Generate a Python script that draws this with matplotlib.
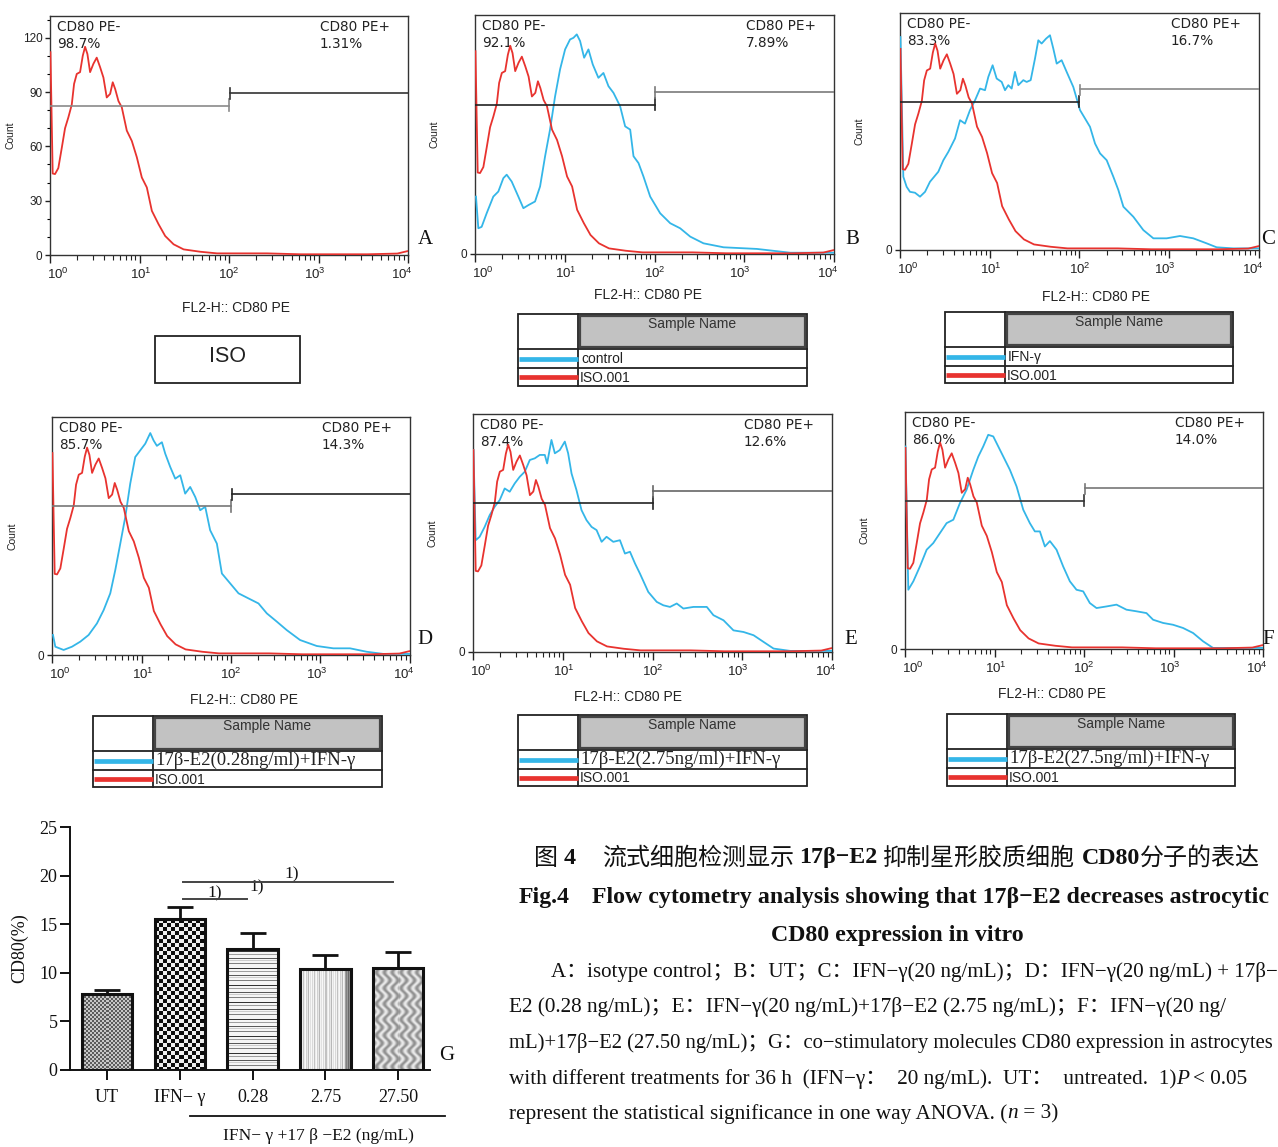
import numpy as np
import matplotlib
matplotlib.use('Agg')
import matplotlib.pyplot as plt
import matplotlib.transforms as mtransforms
from matplotlib.patches import Rectangle
from matplotlib.ticker import FixedLocator, FuncFormatter, NullFormatter

plt.rcParams['mathtext.default'] = 'regular'

W, H = 1278, 1147
RED = '#e8332f'
BLUE = '#34b6e8'

# ------------------------- data -------------------------
panel_letters = ['A', 'B', 'C', 'D', 'E', 'F']
neg_labels = ['98.7%', '92.1%', '83.3%', '85.7%', '87.4%', '86.0%']
pos_labels = ['1.31%', '7.89%', '16.7%', '14.3%', '12.6%', '14.0%']
sample_names = ['ISO', 'control', 'IFN-γ', '17β-E2(0.28ng/ml)+IFN-γ',
                '17β-E2(2.75ng/ml)+IFN-γ', '17β-E2(27.5ng/ml)+IFN-γ']
iso_name = 'ISO.001'
x_ticks = [1, 10, 100, 1000, 10000]
count_ticks_A = [0, 30, 60, 90, 120]
gate_neg = [1, 100]
gate_pos = [100, 10000]
gate_levels = [82.5, 89.5]

# isotype (ISO.001) histogram: log10 fluorescence, count
iso_log = [0.005, 0.03, 0.056, 0.093, 0.131, 0.168, 0.205, 0.243, 0.269, 0.299, 0.336,
           0.366, 0.392, 0.418, 0.448, 0.485, 0.522, 0.560, 0.597, 0.634, 0.672, 0.701,
           0.728, 0.765, 0.802, 0.858, 0.914, 0.970, 1.026, 1.082, 1.138, 1.213, 1.287,
           1.381, 1.493, 1.679, 1.866, 2.052, 2.425, 2.799, 3.545, 3.881, 4.0]
iso_count = [112, 45, 44.7, 48, 59, 70, 76, 83, 94.5, 100, 101,
             110, 115, 111, 101, 105.6, 109, 103.7, 98, 87, 89, 95.4,
             91.7, 85, 81.6, 68.7, 63, 54, 42.8, 37.3, 24.4, 17, 10.5,
             5.9, 3.1, 1.8, 0.9, 0.9, 0.9, 0.4, 0.4, 0.8, 2.2]

# B: control
b_log = [0.011, 0.037, 0.074, 0.130, 0.204, 0.260, 0.316, 0.353, 0.409, 0.483, 0.539,
         0.595, 0.669, 0.725, 0.781, 0.836, 0.892, 0.948, 1.004, 1.059, 1.097, 1.134,
         1.171, 1.216, 1.264, 1.312, 1.375, 1.431, 1.487, 1.543, 1.617, 1.673, 1.729,
         1.766, 1.822, 1.877, 1.952, 2.063, 2.175, 2.286, 2.398, 2.546, 2.770, 3.141,
         3.513, 3.996]
b_count = [31.7, 14.2, 15, 22.5, 31.7, 34.5, 41.9, 43.8, 40, 31.7, 25.3,
           27, 29, 37.3, 54, 68.7, 87, 102, 113, 118.5, 119.4, 121.3,
           117.6, 108.4, 113, 104.7, 97.3, 100, 92.7, 89, 81.6, 70.5, 68.7,
           54, 50.2, 42.8, 31.7, 22.5, 17, 14.2, 9.6, 5.9, 3.7, 2.8,
           0.7, 0.7]

# C: IFN-gamma
c_log = [0.005, 0.037, 0.074, 0.111, 0.167, 0.223, 0.279, 0.334, 0.427, 0.483, 0.539,
         0.613, 0.669, 0.724, 0.780, 0.836, 0.892, 0.947, 0.984, 1.032, 1.077, 1.133,
         1.170, 1.207, 1.244, 1.281, 1.318, 1.374, 1.411, 1.456, 1.504, 1.541, 1.578,
         1.627, 1.671, 1.708, 1.746, 1.801, 1.857, 1.931, 2.006, 2.117, 2.173, 2.229,
         2.303, 2.377, 2.433, 2.489, 2.600, 2.711, 2.823, 2.971, 3.120, 3.268, 3.417,
         3.528, 3.714, 3.993]
c_count = [118.6, 40.8, 35.2, 32.4, 31.9, 29.7, 32.4, 38, 43.6, 50, 54.7,
           62.1, 72.3, 70.4, 77.9, 83.4, 89.9, 89, 96.4, 102.9, 95.5, 93.6,
           89, 91.8, 89.9, 99.2, 91.8, 94.6, 93.6, 94.6, 106.6, 116.8, 115,
           117.7, 119.6, 112.2, 103.8, 105.7, 99.2, 90.8, 77.9, 68.6, 59.3, 53.8,
           50, 40.8, 33.4, 24.1, 18.5, 11.1, 6.5, 6.5, 7.8, 6.5, 3.7,
           1.5, 0.9, 0.9]

# D: 17b-E2 0.28 ng/ml + IFN-gamma
d_log = [0.011, 0.037, 0.130, 0.223, 0.316, 0.409, 0.502, 0.577, 0.651, 0.707, 0.763,
         0.819, 0.874, 0.930, 0.986, 1.042, 1.098, 1.135, 1.172, 1.228, 1.265, 1.321,
         1.377, 1.433, 1.488, 1.544, 1.600, 1.656, 1.712, 1.767, 1.842, 1.898, 1.991,
         2.084, 2.195, 2.307, 2.400, 2.512, 2.623, 2.772, 2.958, 3.144, 3.330, 3.516,
         3.702, 3.993]
d_count = [11.1, 4.6, 2.8, 4.6, 7.4, 11.1, 17.5, 24.9, 34.2, 47.1, 61.8,
           76.6, 95, 109.8, 113.5, 117.2, 123.1, 119, 116, 118, 111.7, 104.3,
           97.8, 99.7, 89.5, 93.2, 87.7, 80.3, 82.2, 69.2, 61.8, 45.2, 39.7,
           34.2, 31.4, 28.6, 23.1, 18.5, 13.8, 8.3, 5, 3.7, 3.7, 1.8,
           0.6, 0.6]

# E: 17b-E2 2.75 ng/ml + IFN-gamma
e_log = [0.005, 0.030, 0.074, 0.130, 0.186, 0.242, 0.298, 0.353, 0.409, 0.465, 0.521,
         0.577, 0.633, 0.688, 0.744, 0.800, 0.826, 0.874, 0.912, 0.967, 1.023, 1.060,
         1.098, 1.153, 1.209, 1.265, 1.321, 1.377, 1.433, 1.488, 1.563, 1.637, 1.693,
         1.749, 1.805, 1.860, 1.953, 2.047, 2.121, 2.195, 2.270, 2.344, 2.456, 2.605,
         2.679, 2.791, 2.902, 3.014, 3.126, 3.237, 3.349, 3.535, 3.993]
e_count = [112, 62, 63.9, 69.4, 75.9, 80.6, 84.3, 90.7, 88.9, 93.5, 97.2,
           100, 106.5, 107.4, 109.3, 109.3, 104.6, 117.6, 110.2, 112, 116.7, 110.2,
           99, 89.8, 78.7, 73.1, 69.4, 67.6, 61.1, 63.9, 61.1, 62, 54.6,
           55.6, 49.1, 43.5, 33.3, 27.8, 25.9, 25, 26.9, 24.1, 25, 25,
           20.4, 17.6, 12, 11.1, 9.3, 5.6, 1.9, 0.6, 0.6]

# F: 17b-E2 27.5 ng/ml + IFN-gamma
f_log = [0.005, 0.037, 0.093, 0.167, 0.242, 0.316, 0.391, 0.465, 0.540, 0.614, 0.688,
         0.763, 0.819, 0.874, 0.930, 0.986, 1.042, 1.098, 1.172, 1.247, 1.321, 1.395,
         1.451, 1.507, 1.563, 1.619, 1.693, 1.767, 1.842, 1.916, 1.991, 2.065, 2.140,
         2.251, 2.363, 2.474, 2.586, 2.698, 2.772, 2.884, 2.995, 3.107, 3.219, 3.330,
         3.442, 3.993]
f_count = [112.8, 33, 37.7, 46, 55.3, 59, 64.6, 70.1, 72, 81.3, 88.7,
           99.8, 107.2, 112.8, 119.3, 118.4, 112.8, 107.2, 99.8, 90.5, 77.6, 70.1,
           65.5, 65.5, 57.1, 60.1, 55.3, 46, 37.7, 33, 32.1, 25.6, 22.8,
           23.7, 24.7, 21.9, 21, 20, 16.3, 14.5, 13.5, 11.7, 8.9, 4.3,
           0.6, 0.6]

blue_series = [None, (b_log, b_count), (c_log, c_count), (d_log, d_count),
               (e_log, e_count), (f_log, f_count)]

# G: bar chart
groups = ['UT', 'IFN− γ', '0.28', '2.75', '27.50']
cd80_mean = [7.8, 15.5, 12.4, 10.4, 10.45]
cd80_sd = [0.45, 1.25, 1.7, 1.45, 1.7]
bar_ticks = [0, 5, 10, 15, 20, 25]
sig_pairs = [(1, 2), (1, 4)]
sig_levels = [17.6, 19.3]
sig_text = '1)'

# ------------------------- layout -------------------------
fig = plt.figure(figsize=(W / 100, H / 100), dpi=100)
fig.patch.set_facecolor('white')

ov = fig.add_axes([0, 0, 1, 1], zorder=-1)
ov.set_xlim(0, W)
ov.set_ylim(H, 0)
ov.axis('off')


def px_axes(l, t, r, b, **kw):
    return fig.add_axes([l / W, 1 - b / H, (r - l) / W, (b - t) / H], **kw)


hist_boxes = [(50, 16, 408, 255), (475, 15, 834, 254), (900, 13, 1259, 250),
              (52, 417, 410, 655), (473, 414, 832, 652), (905, 412, 1263, 649)]
gate_colors = [('#8a8a8a', '#333333'), ('#222222', '#7a7a7a'), ('#222222', '#888888'),
               ('#777777', '#222222'), ('#222222', '#666666'), ('#333333', '#777777')]
xlabel_pos = [(236, 308), (648, 295), (1096, 297), (244, 700), (628, 697), (1052, 694)]
letter_pos = [(425, 240), (852, 240), (1268, 240), (425, 640), (851, 640), (1268, 640)]
table_boxes = [None, (518, 314, 807, 386), (945, 312, 1233, 383), (93, 716, 382, 787),
               (518, 715, 807, 786), (947, 714, 1235, 786)]
label_shifts = [8, 1, 0, -4, -6]

minor_x = [k * 10 ** d for d in range(4) for k in range(2, 10)]

for i, box in enumerate(hist_boxes):
    l, t, r, b = box
    aw, ah = r - l, b - t
    ax = px_axes(l, t, r, b)
    ax.set_xscale('log')
    if blue_series[i] is not None:
        bl, bc = blue_series[i]
        ax.plot(10 ** np.array(bl), bc, color=BLUE, lw=1.3, zorder=3)
    ax.plot(10 ** np.array(iso_log), iso_count, color=RED, lw=1.3, zorder=4)
    cneg, cpos = gate_colors[i]
    ax.plot(gate_neg, [gate_levels[0]] * 2, color=cneg, lw=1.2, zorder=5)
    ax.plot([gate_neg[1]] * 2, [gate_levels[0] - 3, gate_levels[0] + 3.5], color=cneg, lw=1.2, zorder=5)
    ax.plot([gate_pos[0] * 1.02, gate_pos[1]], [gate_levels[1]] * 2, color=cpos, lw=1.2, zorder=5)
    ax.plot([gate_pos[0] * 1.02] * 2, [gate_levels[1] - 3.3, gate_levels[1] + 2.5], color=cpos, lw=1.2, zorder=5)
    ax.set_xlim(1, 1e4)
    ax.set_ylim(0, 132)
    ax.xaxis.set_major_locator(FixedLocator(x_ticks))
    ax.xaxis.set_major_formatter(FuncFormatter(lambda v, p: r'$10^{%d}$' % round(np.log10(v))))
    ax.xaxis.set_minor_locator(FixedLocator(minor_x))
    ax.xaxis.set_minor_formatter(NullFormatter())
    ax.tick_params(axis='x', which='major', direction='out', length=6, width=1.0,
                   labelsize=9.5, pad=2.5, colors='#222')
    ax.tick_params(axis='x', which='minor', direction='out', length=3.5, width=0.8, colors='#222')
    for tk, sh in zip(ax.xaxis.get_major_ticks(numticks=len(x_ticks)), label_shifts):
        off = mtransforms.ScaledTranslation(sh / 100, 0, fig.dpi_scale_trans)
        tk.label1.set_transform(tk.label1.get_transform() + off)
        tk.label1.set_family('Liberation Sans')
    if i == 0:
        ax.yaxis.set_major_locator(FixedLocator(count_ticks_A))
        ax.yaxis.set_minor_locator(FixedLocator([v for v in range(0, 131, 10) if v % 30]))
        ax.tick_params(axis='y', which='minor', direction='out', length=2.5, width=0.8)
    else:
        ax.yaxis.set_major_locator(FixedLocator([0]))
    ax.tick_params(axis='y', which='major', direction='out', length=3.5, width=1.0,
                   labelsize=8.5, pad=2, colors='#222')
    for lab in ax.get_yticklabels():
        lab.set_family('Liberation Sans')
    for s in ax.spines.values():
        s.set_linewidth(1.0)
        s.set_color('#333333')
    ax.set_ylabel('Count', fontsize=7.5, family='Liberation Sans', color='#222')
    ax.yaxis.set_label_coords(-35 / aw, 0.5)
    tkw = dict(transform=ax.transAxes, ha='left', va='center', fontsize=9.8,
               family='DejaVu Sans', color='#222')
    ax.text(7 / aw, 1 - 11 / ah, 'CD80 PE-', **tkw)
    ax.text(7 / aw, 1 - 28 / ah, neg_labels[i], **tkw)
    ax.text(1 - 88 / aw, 1 - 11 / ah, 'CD80 PE+', **tkw)
    ax.text(1 - 88 / aw, 1 - 28 / ah, pos_labels[i], **tkw)

    # x label, panel letter
    xl, yl = xlabel_pos[i]
    ov.text(xl, yl, 'FL2-H:: CD80 PE', ha='center', va='center', fontsize=10,
            family='Liberation Sans', color='#222')
    lx, ly = letter_pos[i]
    ov.text(lx, ly, panel_letters[i], ha='center', va='center', fontsize=15,
            family='Liberation Serif', color='#111')

    # legend tables
    if i == 0:
        ov.add_patch(Rectangle((155, 336), 145, 47, fill=False, lw=1.3, ec='#222'))
        ov.text(227.5, 357, sample_names[0], ha='center', va='center', fontsize=15.5,
                family='Liberation Sans', color='#222')
    else:
        x0, y0, x1, y1 = table_boxes[i]
        ov.add_patch(Rectangle((x0 + 62, y0 + 2), x1 - x0 - 64, 30.5, fc='#c2c2c2', ec='#444', lw=1.6))
        ov.add_patch(Rectangle((x0, y0), x1 - x0, y1 - y0, fill=False, lw=1.3, ec='#222'))
        ov.plot([x0 + 60, x0 + 60], [y0, y1], color='#222', lw=1.3)
        ov.plot([x0, x1], [y0 + 35, y0 + 35], color='#222', lw=1.3)
        ov.plot([x0, x1], [y0 + 53.5, y0 + 53.5], color='#222', lw=1.3)
        ov.plot([x0 + 1, x0 + 60], [y0 + 44.5] * 2, color=BLUE, lw=3.4, solid_capstyle='butt')
        ov.plot([x0 + 1, x0 + 60], [y0 + 63] * 2, color=RED, lw=3.4, solid_capstyle='butt')
        ov.text((x0 + 62 + x1 - 2) / 2, y0 + 10, 'Sample Name', ha='center', va='center',
                fontsize=10, family='Liberation Sans', color='#333')
        if i >= 3:
            ov.text(x0 + 62, y0 + 44.5, sample_names[i], ha='left', va='center', fontsize=13.5,
                    family='Liberation Serif', color='#222')
        else:
            ov.text(x0 + 63, y0 + 45, sample_names[i], ha='left', va='center', fontsize=10,
                    family='Liberation Sans', color='#222')
        ov.text(x0 + 62, y0 + 63.5, iso_name, ha='left', va='center', fontsize=10,
                family='Liberation Sans', color='#222')

# ------------------------- G: bar chart -------------------------
gax = px_axes(70, 827, 430, 1070)
xpos = np.arange(len(groups))
gax.set_xlim(-0.508, 4.437)
gax.set_ylim(0, 25)
bars = gax.bar(xpos, cd80_mean, width=0.69, facecolor='none', edgecolor='#111',
               linewidth=2.2, zorder=3)


def pattern(kind, h, w):
    ii, jj = np.mgrid[0:h, 0:w]
    if kind == 0:
        v = np.where(((ii // 2 + jj // 2) % 2) == 0, 0.36, 0.78)
    elif kind == 1:
        v = np.where(((ii // 4 + jj // 4) % 2) == 0, 0.05, 0.93)
    elif kind == 2:
        rows = np.array([0.96, 0.96, 0.2, 0.96, 0.96, 0.62, 0.96, 0.96, 0.96, 0.35, 0.96,
                         0.8, 0.96, 0.96, 0.5, 0.96, 0.96])
        v = rows[ii % len(rows)]
    elif kind == 3:
        cols = np.array([0.97, 0.85, 0.95, 0.76, 0.92, 0.97, 0.82, 0.9, 0.72, 0.95, 0.88])
        v = cols[jj % len(cols)]
        v = np.where(jj > w * 0.86, v - 0.35, v)
    else:
        v = 0.74 + 0.17 * np.sin(jj * 0.8 + 2.2 * np.sin(ii * 0.4))
    return v


for k, bar in enumerate(bars):
    bb = bar.get_window_extent()
    hpx, wpx = max(int(round(bb.height)), 1), max(int(round(bb.width)), 1)
    img = pattern(k, hpx, wpx)
    gax.imshow(img, cmap='gray', vmin=0, vmax=1, interpolation='nearest', aspect='auto',
               extent=(bar.get_x(), bar.get_x() + bar.get_width(), 0, bar.get_height()),
               origin='upper', zorder=2)

gax.errorbar(xpos, cd80_mean, yerr=[np.zeros(len(cd80_sd)), cd80_sd], fmt='none',
             ecolor='#111', elinewidth=2.0, capsize=9.5, capthick=2.0, zorder=4)
gax.set_xlim(-0.508, 4.437)
gax.set_ylim(0, 25)

# significance lines
line_ends = []
for (a, bidx), lev in zip(sig_pairs, sig_levels):
    xs, xe = xpos[a] + 0.04, xpos[bidx] - 0.07
    gax.plot([xs, xe], [lev, lev], color='#444', lw=1.4, clip_on=False, zorder=5)
    line_ends.append((xs, xe, lev))
sfont = dict(fontsize=12.5, family='Liberation Serif', color='#111', ha='center', va='center')
gax.text((line_ends[0][0] + line_ends[0][1]) / 2, line_ends[0][2] + 0.55, sig_text, **sfont)
gax.text(line_ends[0][1] + 0.12, line_ends[1][2] - 0.5, sig_text, **sfont)
gax.text((line_ends[1][0] + line_ends[1][1]) / 2 + 0.05, line_ends[1][2] + 0.8, sig_text, **sfont)

gax.set_xticks(xpos)
gax.set_xticklabels(groups)
gax.set_yticks(bar_ticks)
gax.tick_params(axis='both', direction='out', length=7, width=1.4, labelsize=13, colors='#111')
gax.tick_params(axis='x', pad=7)
gax.tick_params(axis='y', pad=2)
for lab in gax.get_xticklabels() + gax.get_yticklabels():
    lab.set_family('Liberation Serif')
for s in ['top', 'right']:
    gax.spines[s].set_visible(False)
for s in ['left', 'bottom']:
    gax.spines[s].set_linewidth(1.4)
    gax.spines[s].set_color('#111')
gax.set_ylabel('CD80(%)', fontsize=13, family='Liberation Serif', color='#111')
gax.yaxis.set_label_coords(-42 / 360, 0.5)

ov.plot([190, 445], [1116, 1116], color='#111', lw=1.3)
ov.text(318, 1136, 'IFN− γ +17 β −E2 (ng/mL)', ha='center', va='center', fontsize=12.5,
        family='Liberation Serif', color='#111')
ov.text(447, 1055, 'G', ha='center', va='center', fontsize=15, family='Liberation Serif', color='#111')

# ------------------------- caption -------------------------
renderer = fig.canvas.get_renderer()
SERIF = ['Liberation Serif', 'Noto Sans CJK SC']
CJK = ['Noto Sans CJK SC', 'DejaVu Sans']
RIGHT_LIMIT = 1275


def draw_runs(x, y, runs, align='left'):
    items = []
    total = 0
    for s, kw, gap in runs:
        t = ov.text(0, y, s, ha='left', va='center', color='#111', **kw)
        w = t.get_window_extent(renderer).width
        items.append([t, w, gap])
        total += w + gap
    if align == 'left' and x + total > RIGHT_LIMIT:
        scale = (RIGHT_LIMIT - x) / total
        total = 0
        for it in items:
            it[0].set_fontsize(it[0].get_fontsize() * scale)
            it[1] = it[0].get_window_extent(renderer).width
            total += it[1] + it[2]
    if align == 'center':
        x = x - total / 2
    for t, w, gap in items:
        t.set_x(x)
        x += w + gap


tb = dict(family='Liberation Serif', fontsize=17.3, weight='bold')
tc = dict(family=CJK, fontsize=17.3)
draw_runs(897, 858, [('图', tc, 6), ('4', tb, 26), ('流式细胞检测显示', tc, 5),
                     ('17β−E2', tb, 6), ('抑制星形胶质细胞', tc, 7), ('CD80', tb, 0),
                     ('分子的表达', tc, 0)], align='center')
fb = dict(family='Liberation Serif', fontsize=17.2, weight='bold')
draw_runs(519, 897, [('Fig.4', fb, 22),
                     ('Flow cytometry analysis showing that 17β−E2 decreases astrocytic', fb, 0)])
draw_runs(897, 935, [('CD80 expression in vitro', fb, 0)], align='center')

bf = dict(family=SERIF, fontsize=15.3)
bi = dict(family=SERIF, fontsize=15.3, style='italic')
draw_runs(551, 972, [('A：isotype control；B：UT；C：IFN−γ(20 ng/mL)；D：IFN−γ(20 ng/mL) + 17β−', bf, 0)])
draw_runs(509, 1007, [('E2 (0.28 ng/mL)；E：IFN−γ(20 ng/mL)+17β−E2 (2.75 ng/mL)；F：IFN−γ(20 ng/', bf, 0)])
draw_runs(509, 1043, [('mL)+17β−E2 (27.50 ng/mL)；G：co−stimulatory molecules CD80 expression in astrocytes', bf, 0)])
draw_runs(509, 1079, [('with different treatments for 36 h  (IFN−γ：  20 ng/mL).  UT：  untreated.  1)', bf, 0),
                      ('P', bi, 4), ('< 0.05', bf, 0)])
draw_runs(509, 1114, [('represent the statistical significance in one way ANOVA. (', bf, 0),
                      ('n', bi, 0), (' = 3)', bf, 0)])

fig.savefig('out.png', dpi=100, facecolor='white')
